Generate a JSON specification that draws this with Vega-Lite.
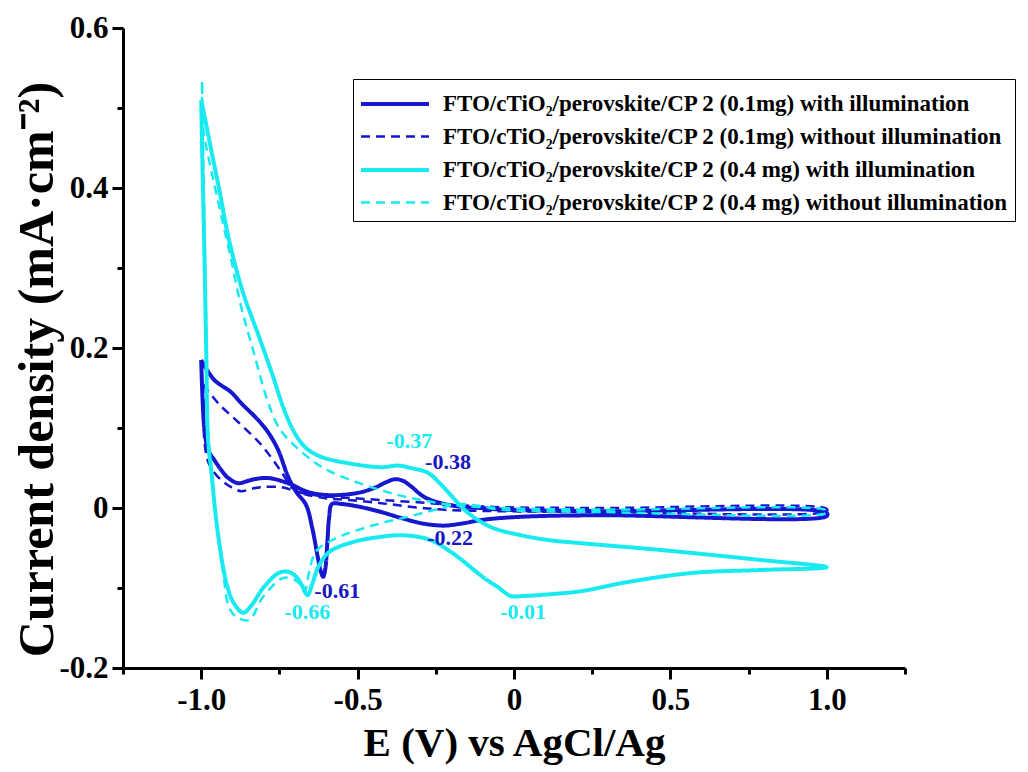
{
  "$schema": "https://vega.github.io/schema/vega-lite/v6.json",
  "width": 782,
  "height": 640,
  "autosize": {"type": "none"},
  "padding": {"left": 123, "top": 28, "right": 123, "bottom": 104},
  "background": "white",
  "config": {
    "view": {"stroke": null},
    "font": "Liberation Serif",
    "legend": {
      "orient": "none",
      "legendX": 230,
      "legendY": 51,
      "symbolType": "M-2,0H2",
      "symbolSize": 1156,
      "symbolOffset": 17,
      "labelFont": "Liberation Serif",
      "labelFontWeight": "bold",
      "labelFontSize": 23,
      "labelColor": "black",
      "labelLimit": 0,
      "labelOffset": 29,
      "strokeColor": "black",
      "padding": 6,
      "rowPadding": 2
    }
  },
  "datasets": {
    "curves": [
      {"sample": "FTO/cTiO₂/perovskite/CP 2 (0.1mg) with illumination", "E": -1.0, "J": 0.185},
      {"sample": "FTO/cTiO₂/perovskite/CP 2 (0.1mg) with illumination", "E": -0.958, "J": 0.16},
      {"sample": "FTO/cTiO₂/perovskite/CP 2 (0.1mg) with illumination", "E": -0.905, "J": 0.145},
      {"sample": "FTO/cTiO₂/perovskite/CP 2 (0.1mg) with illumination", "E": -0.872, "J": 0.131},
      {"sample": "FTO/cTiO₂/perovskite/CP 2 (0.1mg) with illumination", "E": -0.818, "J": 0.11},
      {"sample": "FTO/cTiO₂/perovskite/CP 2 (0.1mg) with illumination", "E": -0.785, "J": 0.094},
      {"sample": "FTO/cTiO₂/perovskite/CP 2 (0.1mg) with illumination", "E": -0.754, "J": 0.0725},
      {"sample": "FTO/cTiO₂/perovskite/CP 2 (0.1mg) with illumination", "E": -0.722, "J": 0.039},
      {"sample": "FTO/cTiO₂/perovskite/CP 2 (0.1mg) with illumination", "E": -0.696, "J": 0.02},
      {"sample": "FTO/cTiO₂/perovskite/CP 2 (0.1mg) with illumination", "E": -0.665, "J": 0.004},
      {"sample": "FTO/cTiO₂/perovskite/CP 2 (0.1mg) with illumination", "E": -0.645, "J": -0.025},
      {"sample": "FTO/cTiO₂/perovskite/CP 2 (0.1mg) with illumination", "E": -0.628, "J": -0.06},
      {"sample": "FTO/cTiO₂/perovskite/CP 2 (0.1mg) with illumination", "E": -0.617, "J": -0.08},
      {"sample": "FTO/cTiO₂/perovskite/CP 2 (0.1mg) with illumination", "E": -0.61, "J": -0.086},
      {"sample": "FTO/cTiO₂/perovskite/CP 2 (0.1mg) with illumination", "E": -0.603, "J": -0.075},
      {"sample": "FTO/cTiO₂/perovskite/CP 2 (0.1mg) with illumination", "E": -0.597, "J": -0.045},
      {"sample": "FTO/cTiO₂/perovskite/CP 2 (0.1mg) with illumination", "E": -0.591, "J": -0.012},
      {"sample": "FTO/cTiO₂/perovskite/CP 2 (0.1mg) with illumination", "E": -0.582, "J": 0.005},
      {"sample": "FTO/cTiO₂/perovskite/CP 2 (0.1mg) with illumination", "E": -0.55, "J": 0.005},
      {"sample": "FTO/cTiO₂/perovskite/CP 2 (0.1mg) with illumination", "E": -0.5, "J": 0.002},
      {"sample": "FTO/cTiO₂/perovskite/CP 2 (0.1mg) with illumination", "E": -0.425, "J": -0.005},
      {"sample": "FTO/cTiO₂/perovskite/CP 2 (0.1mg) with illumination", "E": -0.361, "J": -0.0125},
      {"sample": "FTO/cTiO₂/perovskite/CP 2 (0.1mg) with illumination", "E": -0.297, "J": -0.019},
      {"sample": "FTO/cTiO₂/perovskite/CP 2 (0.1mg) with illumination", "E": -0.25, "J": -0.0215},
      {"sample": "FTO/cTiO₂/perovskite/CP 2 (0.1mg) with illumination", "E": -0.22, "J": -0.022},
      {"sample": "FTO/cTiO₂/perovskite/CP 2 (0.1mg) with illumination", "E": -0.16, "J": -0.019},
      {"sample": "FTO/cTiO₂/perovskite/CP 2 (0.1mg) with illumination", "E": -0.105, "J": -0.015},
      {"sample": "FTO/cTiO₂/perovskite/CP 2 (0.1mg) with illumination", "E": 0.022, "J": -0.011},
      {"sample": "FTO/cTiO₂/perovskite/CP 2 (0.1mg) with illumination", "E": 0.278, "J": -0.009},
      {"sample": "FTO/cTiO₂/perovskite/CP 2 (0.1mg) with illumination", "E": 1.0, "J": -0.01},
      {"sample": "FTO/cTiO₂/perovskite/CP 2 (0.1mg) with illumination", "E": 1.0, "J": -0.006},
      {"sample": "FTO/cTiO₂/perovskite/CP 2 (0.1mg) with illumination", "E": 0.278, "J": -0.004},
      {"sample": "FTO/cTiO₂/perovskite/CP 2 (0.1mg) with illumination", "E": -0.042, "J": -0.002},
      {"sample": "FTO/cTiO₂/perovskite/CP 2 (0.1mg) with illumination", "E": -0.105, "J": 0.0},
      {"sample": "FTO/cTiO₂/perovskite/CP 2 (0.1mg) with illumination", "E": -0.16, "J": 0.001},
      {"sample": "FTO/cTiO₂/perovskite/CP 2 (0.1mg) with illumination", "E": -0.233, "J": 0.006},
      {"sample": "FTO/cTiO₂/perovskite/CP 2 (0.1mg) with illumination", "E": -0.288, "J": 0.014},
      {"sample": "FTO/cTiO₂/perovskite/CP 2 (0.1mg) with illumination", "E": -0.329, "J": 0.027},
      {"sample": "FTO/cTiO₂/perovskite/CP 2 (0.1mg) with illumination", "E": -0.355, "J": 0.034},
      {"sample": "FTO/cTiO₂/perovskite/CP 2 (0.1mg) with illumination", "E": -0.38, "J": 0.036},
      {"sample": "FTO/cTiO₂/perovskite/CP 2 (0.1mg) with illumination", "E": -0.41, "J": 0.032},
      {"sample": "FTO/cTiO₂/perovskite/CP 2 (0.1mg) with illumination", "E": -0.447, "J": 0.025},
      {"sample": "FTO/cTiO₂/perovskite/CP 2 (0.1mg) with illumination", "E": -0.498, "J": 0.019},
      {"sample": "FTO/cTiO₂/perovskite/CP 2 (0.1mg) with illumination", "E": -0.585, "J": 0.016},
      {"sample": "FTO/cTiO₂/perovskite/CP 2 (0.1mg) with illumination", "E": -0.658, "J": 0.02},
      {"sample": "FTO/cTiO₂/perovskite/CP 2 (0.1mg) with illumination", "E": -0.722, "J": 0.031},
      {"sample": "FTO/cTiO₂/perovskite/CP 2 (0.1mg) with illumination", "E": -0.786, "J": 0.0375},
      {"sample": "FTO/cTiO₂/perovskite/CP 2 (0.1mg) with illumination", "E": -0.83, "J": 0.036},
      {"sample": "FTO/cTiO₂/perovskite/CP 2 (0.1mg) with illumination", "E": -0.85, "J": 0.034},
      {"sample": "FTO/cTiO₂/perovskite/CP 2 (0.1mg) with illumination", "E": -0.882, "J": 0.031},
      {"sample": "FTO/cTiO₂/perovskite/CP 2 (0.1mg) with illumination", "E": -0.915, "J": 0.038},
      {"sample": "FTO/cTiO₂/perovskite/CP 2 (0.1mg) with illumination", "E": -0.936, "J": 0.0475},
      {"sample": "FTO/cTiO₂/perovskite/CP 2 (0.1mg) with illumination", "E": -0.958, "J": 0.06},
      {"sample": "FTO/cTiO₂/perovskite/CP 2 (0.1mg) with illumination", "E": -0.978, "J": 0.0725},
      {"sample": "FTO/cTiO₂/perovskite/CP 2 (0.1mg) with illumination", "E": -0.99, "J": 0.1},
      {"sample": "FTO/cTiO₂/perovskite/CP 2 (0.1mg) with illumination", "E": -0.994, "J": 0.1225},
      {"sample": "FTO/cTiO₂/perovskite/CP 2 (0.1mg) with illumination", "E": -0.998, "J": 0.16},
      {"sample": "FTO/cTiO₂/perovskite/CP 2 (0.1mg) with illumination", "E": -1.0, "J": 0.185},

      {"sample": "FTO/cTiO₂/perovskite/CP 2 (0.1mg) without illumination", "E": -0.994, "J": 0.155},
      {"sample": "FTO/cTiO₂/perovskite/CP 2 (0.1mg) without illumination", "E": -0.992, "J": 0.12},
      {"sample": "FTO/cTiO₂/perovskite/CP 2 (0.1mg) without illumination", "E": -0.99, "J": 0.085},
      {"sample": "FTO/cTiO₂/perovskite/CP 2 (0.1mg) without illumination", "E": -0.978, "J": 0.058},
      {"sample": "FTO/cTiO₂/perovskite/CP 2 (0.1mg) without illumination", "E": -0.958, "J": 0.044},
      {"sample": "FTO/cTiO₂/perovskite/CP 2 (0.1mg) without illumination", "E": -0.93, "J": 0.033},
      {"sample": "FTO/cTiO₂/perovskite/CP 2 (0.1mg) without illumination", "E": -0.904, "J": 0.026},
      {"sample": "FTO/cTiO₂/perovskite/CP 2 (0.1mg) without illumination", "E": -0.872, "J": 0.021},
      {"sample": "FTO/cTiO₂/perovskite/CP 2 (0.1mg) without illumination", "E": -0.84, "J": 0.024},
      {"sample": "FTO/cTiO₂/perovskite/CP 2 (0.1mg) without illumination", "E": -0.808, "J": 0.026},
      {"sample": "FTO/cTiO₂/perovskite/CP 2 (0.1mg) without illumination", "E": -0.744, "J": 0.026},
      {"sample": "FTO/cTiO₂/perovskite/CP 2 (0.1mg) without illumination", "E": -0.69, "J": 0.02},
      {"sample": "FTO/cTiO₂/perovskite/CP 2 (0.1mg) without illumination", "E": -0.62, "J": 0.015},
      {"sample": "FTO/cTiO₂/perovskite/CP 2 (0.1mg) without illumination", "E": -0.52, "J": 0.0125},
      {"sample": "FTO/cTiO₂/perovskite/CP 2 (0.1mg) without illumination", "E": -0.425, "J": 0.01},
      {"sample": "FTO/cTiO₂/perovskite/CP 2 (0.1mg) without illumination", "E": -0.319, "J": 0.0075},
      {"sample": "FTO/cTiO₂/perovskite/CP 2 (0.1mg) without illumination", "E": -0.2, "J": 0.004},
      {"sample": "FTO/cTiO₂/perovskite/CP 2 (0.1mg) without illumination", "E": -0.042, "J": 0.001},
      {"sample": "FTO/cTiO₂/perovskite/CP 2 (0.1mg) without illumination", "E": 0.278, "J": 0.0},
      {"sample": "FTO/cTiO₂/perovskite/CP 2 (0.1mg) without illumination", "E": 1.0, "J": -0.001},
      {"sample": "FTO/cTiO₂/perovskite/CP 2 (0.1mg) without illumination", "E": 1.0, "J": -0.004},
      {"sample": "FTO/cTiO₂/perovskite/CP 2 (0.1mg) without illumination", "E": 0.278, "J": -0.005},
      {"sample": "FTO/cTiO₂/perovskite/CP 2 (0.1mg) without illumination", "E": -0.042, "J": -0.004},
      {"sample": "FTO/cTiO₂/perovskite/CP 2 (0.1mg) without illumination", "E": -0.211, "J": -0.0025},
      {"sample": "FTO/cTiO₂/perovskite/CP 2 (0.1mg) without illumination", "E": -0.319, "J": 0.001},
      {"sample": "FTO/cTiO₂/perovskite/CP 2 (0.1mg) without illumination", "E": -0.425, "J": 0.006},
      {"sample": "FTO/cTiO₂/perovskite/CP 2 (0.1mg) without illumination", "E": -0.53, "J": 0.01},
      {"sample": "FTO/cTiO₂/perovskite/CP 2 (0.1mg) without illumination", "E": -0.607, "J": 0.0125},
      {"sample": "FTO/cTiO₂/perovskite/CP 2 (0.1mg) without illumination", "E": -0.681, "J": 0.019},
      {"sample": "FTO/cTiO₂/perovskite/CP 2 (0.1mg) without illumination", "E": -0.712, "J": 0.026},
      {"sample": "FTO/cTiO₂/perovskite/CP 2 (0.1mg) without illumination", "E": -0.735, "J": 0.04},
      {"sample": "FTO/cTiO₂/perovskite/CP 2 (0.1mg) without illumination", "E": -0.754, "J": 0.051},
      {"sample": "FTO/cTiO₂/perovskite/CP 2 (0.1mg) without illumination", "E": -0.808, "J": 0.079},
      {"sample": "FTO/cTiO₂/perovskite/CP 2 (0.1mg) without illumination", "E": -0.882, "J": 0.1075},
      {"sample": "FTO/cTiO₂/perovskite/CP 2 (0.1mg) without illumination", "E": -0.946, "J": 0.131},
      {"sample": "FTO/cTiO₂/perovskite/CP 2 (0.1mg) without illumination", "E": -0.994, "J": 0.155},

      {"sample": "FTO/cTiO₂/perovskite/CP 2 (0.4 mg) with illumination", "E": -1.0, "J": 0.51},
      {"sample": "FTO/cTiO₂/perovskite/CP 2 (0.4 mg) with illumination", "E": -0.99, "J": 0.491},
      {"sample": "FTO/cTiO₂/perovskite/CP 2 (0.4 mg) with illumination", "E": -0.968, "J": 0.4475},
      {"sample": "FTO/cTiO₂/perovskite/CP 2 (0.4 mg) with illumination", "E": -0.942, "J": 0.3975},
      {"sample": "FTO/cTiO₂/perovskite/CP 2 (0.4 mg) with illumination", "E": -0.911, "J": 0.335},
      {"sample": "FTO/cTiO₂/perovskite/CP 2 (0.4 mg) with illumination", "E": -0.866, "J": 0.269},
      {"sample": "FTO/cTiO₂/perovskite/CP 2 (0.4 mg) with illumination", "E": -0.815, "J": 0.214},
      {"sample": "FTO/cTiO₂/perovskite/CP 2 (0.4 mg) with illumination", "E": -0.77, "J": 0.164},
      {"sample": "FTO/cTiO₂/perovskite/CP 2 (0.4 mg) with illumination", "E": -0.738, "J": 0.126},
      {"sample": "FTO/cTiO₂/perovskite/CP 2 (0.4 mg) with illumination", "E": -0.703, "J": 0.095},
      {"sample": "FTO/cTiO₂/perovskite/CP 2 (0.4 mg) with illumination", "E": -0.665, "J": 0.075},
      {"sample": "FTO/cTiO₂/perovskite/CP 2 (0.4 mg) with illumination", "E": -0.617, "J": 0.064},
      {"sample": "FTO/cTiO₂/perovskite/CP 2 (0.4 mg) with illumination", "E": -0.53, "J": 0.056},
      {"sample": "FTO/cTiO₂/perovskite/CP 2 (0.4 mg) with illumination", "E": -0.425, "J": 0.051},
      {"sample": "FTO/cTiO₂/perovskite/CP 2 (0.4 mg) with illumination", "E": -0.37, "J": 0.053},
      {"sample": "FTO/cTiO₂/perovskite/CP 2 (0.4 mg) with illumination", "E": -0.33, "J": 0.05},
      {"sample": "FTO/cTiO₂/perovskite/CP 2 (0.4 mg) with illumination", "E": -0.275, "J": 0.044},
      {"sample": "FTO/cTiO₂/perovskite/CP 2 (0.4 mg) with illumination", "E": -0.24, "J": 0.032},
      {"sample": "FTO/cTiO₂/perovskite/CP 2 (0.4 mg) with illumination", "E": -0.211, "J": 0.02},
      {"sample": "FTO/cTiO₂/perovskite/CP 2 (0.4 mg) with illumination", "E": -0.147, "J": -0.006},
      {"sample": "FTO/cTiO₂/perovskite/CP 2 (0.4 mg) with illumination", "E": -0.073, "J": -0.024},
      {"sample": "FTO/cTiO₂/perovskite/CP 2 (0.4 mg) with illumination", "E": 0.022, "J": -0.034},
      {"sample": "FTO/cTiO₂/perovskite/CP 2 (0.4 mg) with illumination", "E": 0.109, "J": -0.04},
      {"sample": "FTO/cTiO₂/perovskite/CP 2 (0.4 mg) with illumination", "E": 0.214, "J": -0.044},
      {"sample": "FTO/cTiO₂/perovskite/CP 2 (0.4 mg) with illumination", "E": 0.47, "J": -0.0525},
      {"sample": "FTO/cTiO₂/perovskite/CP 2 (0.4 mg) with illumination", "E": 0.789, "J": -0.065},
      {"sample": "FTO/cTiO₂/perovskite/CP 2 (0.4 mg) with illumination", "E": 1.0, "J": -0.074},
      {"sample": "FTO/cTiO₂/perovskite/CP 2 (0.4 mg) with illumination", "E": 0.789, "J": -0.0775},
      {"sample": "FTO/cTiO₂/perovskite/CP 2 (0.4 mg) with illumination", "E": 0.575, "J": -0.081},
      {"sample": "FTO/cTiO₂/perovskite/CP 2 (0.4 mg) with illumination", "E": 0.364, "J": -0.0925},
      {"sample": "FTO/cTiO₂/perovskite/CP 2 (0.4 mg) with illumination", "E": 0.214, "J": -0.104},
      {"sample": "FTO/cTiO₂/perovskite/CP 2 (0.4 mg) with illumination", "E": 0.109, "J": -0.108},
      {"sample": "FTO/cTiO₂/perovskite/CP 2 (0.4 mg) with illumination", "E": 0.03, "J": -0.11},
      {"sample": "FTO/cTiO₂/perovskite/CP 2 (0.4 mg) with illumination", "E": -0.01, "J": -0.11},
      {"sample": "FTO/cTiO₂/perovskite/CP 2 (0.4 mg) with illumination", "E": -0.051, "J": -0.099},
      {"sample": "FTO/cTiO₂/perovskite/CP 2 (0.4 mg) with illumination", "E": -0.09, "J": -0.089},
      {"sample": "FTO/cTiO₂/perovskite/CP 2 (0.4 mg) with illumination", "E": -0.128, "J": -0.0775},
      {"sample": "FTO/cTiO₂/perovskite/CP 2 (0.4 mg) with illumination", "E": -0.17, "J": -0.064},
      {"sample": "FTO/cTiO₂/perovskite/CP 2 (0.4 mg) with illumination", "E": -0.211, "J": -0.0525},
      {"sample": "FTO/cTiO₂/perovskite/CP 2 (0.4 mg) with illumination", "E": -0.25, "J": -0.043},
      {"sample": "FTO/cTiO₂/perovskite/CP 2 (0.4 mg) with illumination", "E": -0.288, "J": -0.0375},
      {"sample": "FTO/cTiO₂/perovskite/CP 2 (0.4 mg) with illumination", "E": -0.361, "J": -0.034},
      {"sample": "FTO/cTiO₂/perovskite/CP 2 (0.4 mg) with illumination", "E": -0.425, "J": -0.036},
      {"sample": "FTO/cTiO₂/perovskite/CP 2 (0.4 mg) with illumination", "E": -0.514, "J": -0.0425},
      {"sample": "FTO/cTiO₂/perovskite/CP 2 (0.4 mg) with illumination", "E": -0.591, "J": -0.055},
      {"sample": "FTO/cTiO₂/perovskite/CP 2 (0.4 mg) with illumination", "E": -0.626, "J": -0.074},
      {"sample": "FTO/cTiO₂/perovskite/CP 2 (0.4 mg) with illumination", "E": -0.645, "J": -0.095},
      {"sample": "FTO/cTiO₂/perovskite/CP 2 (0.4 mg) with illumination", "E": -0.66, "J": -0.109},
      {"sample": "FTO/cTiO₂/perovskite/CP 2 (0.4 mg) with illumination", "E": -0.68, "J": -0.095},
      {"sample": "FTO/cTiO₂/perovskite/CP 2 (0.4 mg) with illumination", "E": -0.696, "J": -0.086},
      {"sample": "FTO/cTiO₂/perovskite/CP 2 (0.4 mg) with illumination", "E": -0.719, "J": -0.08},
      {"sample": "FTO/cTiO₂/perovskite/CP 2 (0.4 mg) with illumination", "E": -0.751, "J": -0.081},
      {"sample": "FTO/cTiO₂/perovskite/CP 2 (0.4 mg) with illumination", "E": -0.802, "J": -0.1},
      {"sample": "FTO/cTiO₂/perovskite/CP 2 (0.4 mg) with illumination", "E": -0.84, "J": -0.122},
      {"sample": "FTO/cTiO₂/perovskite/CP 2 (0.4 mg) with illumination", "E": -0.866, "J": -0.131},
      {"sample": "FTO/cTiO₂/perovskite/CP 2 (0.4 mg) with illumination", "E": -0.898, "J": -0.1175},
      {"sample": "FTO/cTiO₂/perovskite/CP 2 (0.4 mg) with illumination", "E": -0.915, "J": -0.1},
      {"sample": "FTO/cTiO₂/perovskite/CP 2 (0.4 mg) with illumination", "E": -0.93, "J": -0.074},
      {"sample": "FTO/cTiO₂/perovskite/CP 2 (0.4 mg) with illumination", "E": -0.952, "J": -0.015},
      {"sample": "FTO/cTiO₂/perovskite/CP 2 (0.4 mg) with illumination", "E": -0.968, "J": 0.0475},
      {"sample": "FTO/cTiO₂/perovskite/CP 2 (0.4 mg) with illumination", "E": -0.978, "J": 0.085},
      {"sample": "FTO/cTiO₂/perovskite/CP 2 (0.4 mg) with illumination", "E": -0.984, "J": 0.1975},
      {"sample": "FTO/cTiO₂/perovskite/CP 2 (0.4 mg) with illumination", "E": -0.99, "J": 0.3225},
      {"sample": "FTO/cTiO₂/perovskite/CP 2 (0.4 mg) with illumination", "E": -0.997, "J": 0.4475},
      {"sample": "FTO/cTiO₂/perovskite/CP 2 (0.4 mg) with illumination", "E": -1.0, "J": 0.51},

      {"sample": "FTO/cTiO₂/perovskite/CP 2 (0.4 mg) without illumination", "E": -0.997, "J": 0.5325},
      {"sample": "FTO/cTiO₂/perovskite/CP 2 (0.4 mg) without illumination", "E": -0.994, "J": 0.476},
      {"sample": "FTO/cTiO₂/perovskite/CP 2 (0.4 mg) without illumination", "E": -0.968, "J": 0.4225},
      {"sample": "FTO/cTiO₂/perovskite/CP 2 (0.4 mg) without illumination", "E": -0.936, "J": 0.366},
      {"sample": "FTO/cTiO₂/perovskite/CP 2 (0.4 mg) without illumination", "E": -0.904, "J": 0.31},
      {"sample": "FTO/cTiO₂/perovskite/CP 2 (0.4 mg) without illumination", "E": -0.872, "J": 0.251},
      {"sample": "FTO/cTiO₂/perovskite/CP 2 (0.4 mg) without illumination", "E": -0.834, "J": 0.1975},
      {"sample": "FTO/cTiO₂/perovskite/CP 2 (0.4 mg) without illumination", "E": -0.792, "J": 0.139},
      {"sample": "FTO/cTiO₂/perovskite/CP 2 (0.4 mg) without illumination", "E": -0.751, "J": 0.1},
      {"sample": "FTO/cTiO₂/perovskite/CP 2 (0.4 mg) without illumination", "E": -0.696, "J": 0.076},
      {"sample": "FTO/cTiO₂/perovskite/CP 2 (0.4 mg) without illumination", "E": -0.633, "J": 0.056},
      {"sample": "FTO/cTiO₂/perovskite/CP 2 (0.4 mg) without illumination", "E": -0.585, "J": 0.045},
      {"sample": "FTO/cTiO₂/perovskite/CP 2 (0.4 mg) without illumination", "E": -0.479, "J": 0.029},
      {"sample": "FTO/cTiO₂/perovskite/CP 2 (0.4 mg) without illumination", "E": -0.383, "J": 0.0175},
      {"sample": "FTO/cTiO₂/perovskite/CP 2 (0.4 mg) without illumination", "E": -0.297, "J": 0.01},
      {"sample": "FTO/cTiO₂/perovskite/CP 2 (0.4 mg) without illumination", "E": -0.201, "J": 0.004},
      {"sample": "FTO/cTiO₂/perovskite/CP 2 (0.4 mg) without illumination", "E": -0.042, "J": 0.0},
      {"sample": "FTO/cTiO₂/perovskite/CP 2 (0.4 mg) without illumination", "E": 0.278, "J": -0.002},
      {"sample": "FTO/cTiO₂/perovskite/CP 2 (0.4 mg) without illumination", "E": 1.0, "J": -0.003},
      {"sample": "FTO/cTiO₂/perovskite/CP 2 (0.4 mg) without illumination", "E": 1.0, "J": -0.006},
      {"sample": "FTO/cTiO₂/perovskite/CP 2 (0.4 mg) without illumination", "E": 0.278, "J": -0.005},
      {"sample": "FTO/cTiO₂/perovskite/CP 2 (0.4 mg) without illumination", "E": -0.042, "J": -0.002},
      {"sample": "FTO/cTiO₂/perovskite/CP 2 (0.4 mg) without illumination", "E": -0.12, "J": 0.003},
      {"sample": "FTO/cTiO₂/perovskite/CP 2 (0.4 mg) without illumination", "E": -0.179, "J": 0.005},
      {"sample": "FTO/cTiO₂/perovskite/CP 2 (0.4 mg) without illumination", "E": -0.256, "J": -0.0025},
      {"sample": "FTO/cTiO₂/perovskite/CP 2 (0.4 mg) without illumination", "E": -0.339, "J": -0.011},
      {"sample": "FTO/cTiO₂/perovskite/CP 2 (0.4 mg) without illumination", "E": -0.425, "J": -0.019},
      {"sample": "FTO/cTiO₂/perovskite/CP 2 (0.4 mg) without illumination", "E": -0.546, "J": -0.034},
      {"sample": "FTO/cTiO₂/perovskite/CP 2 (0.4 mg) without illumination", "E": -0.623, "J": -0.05},
      {"sample": "FTO/cTiO₂/perovskite/CP 2 (0.4 mg) without illumination", "E": -0.642, "J": -0.061},
      {"sample": "FTO/cTiO₂/perovskite/CP 2 (0.4 mg) without illumination", "E": -0.655, "J": -0.08},
      {"sample": "FTO/cTiO₂/perovskite/CP 2 (0.4 mg) without illumination", "E": -0.67, "J": -0.105},
      {"sample": "FTO/cTiO₂/perovskite/CP 2 (0.4 mg) without illumination", "E": -0.685, "J": -0.095},
      {"sample": "FTO/cTiO₂/perovskite/CP 2 (0.4 mg) without illumination", "E": -0.7, "J": -0.09},
      {"sample": "FTO/cTiO₂/perovskite/CP 2 (0.4 mg) without illumination", "E": -0.738, "J": -0.0875},
      {"sample": "FTO/cTiO₂/perovskite/CP 2 (0.4 mg) without illumination", "E": -0.802, "J": -0.111},
      {"sample": "FTO/cTiO₂/perovskite/CP 2 (0.4 mg) without illumination", "E": -0.847, "J": -0.14},
      {"sample": "FTO/cTiO₂/perovskite/CP 2 (0.4 mg) without illumination", "E": -0.888, "J": -0.136},
      {"sample": "FTO/cTiO₂/perovskite/CP 2 (0.4 mg) without illumination", "E": -0.911, "J": -0.124},
      {"sample": "FTO/cTiO₂/perovskite/CP 2 (0.4 mg) without illumination", "E": -0.93, "J": -0.08},
      {"sample": "FTO/cTiO₂/perovskite/CP 2 (0.4 mg) without illumination", "E": -0.952, "J": -0.015},
      {"sample": "FTO/cTiO₂/perovskite/CP 2 (0.4 mg) without illumination", "E": -0.968, "J": 0.05},
      {"sample": "FTO/cTiO₂/perovskite/CP 2 (0.4 mg) without illumination", "E": -0.978, "J": 0.1},
      {"sample": "FTO/cTiO₂/perovskite/CP 2 (0.4 mg) without illumination", "E": -0.985, "J": 0.25},
      {"sample": "FTO/cTiO₂/perovskite/CP 2 (0.4 mg) without illumination", "E": -0.992, "J": 0.4},
      {"sample": "FTO/cTiO₂/perovskite/CP 2 (0.4 mg) without illumination", "E": -0.997, "J": 0.5325}
    ],
    "peaks": [
      {"mass": "0.4 mg", "label": "-0.37", "E": -0.335, "J": 0.084},
      {"mass": "0.1mg", "label": "-0.38", "E": -0.211, "J": 0.0575},
      {"mass": "0.1mg", "label": "-0.22", "E": -0.204, "J": -0.0375},
      {"mass": "0.1mg", "label": "-0.61", "E": -0.565, "J": -0.104},
      {"mass": "0.4 mg", "label": "-0.66", "E": -0.661, "J": -0.13},
      {"mass": "0.4 mg", "label": "-0.01", "E": 0.029, "J": -0.13}
    ]
  },
  "layer": [
    {
      "data": {"name": "curves"},
      "mark": {"type": "line", "interpolate": "catmull-rom", "strokeJoin": "round", "strokeCap": "butt"},
      "encoding": {
        "x": {
          "field": "E", "type": "quantitative",
          "scale": {"domain": [-1.25, 1.25], "nice": false, "zero": false},
          "axis": {
            "title": "E (V) vs AgCl/Ag",
            "values": [-1.25, -1, -0.75, -0.5, -0.25, 0, 0.25, 0.5, 0.75, 1, 1.25],
            "labelExpr": "abs(datum.value) > 1.1 || abs(datum.value * 2 - round(datum.value * 2)) > 0.01 ? '' : (datum.value == 0 ? '0' : replace(format(datum.value, '.1f'), '\u2212', '-'))",
            "grid": false,
            "domainColor": "black", "domainWidth": 3,
            "tickColor": "black", "tickWidth": 3,
            "tickSize": {"condition": {"test": "abs(datum.value) < 1.1 && abs(datum.value * 2 - round(datum.value * 2)) < 0.01", "value": 11}, "value": 6},
            "labelFont": "Liberation Serif", "labelFontWeight": "bold", "labelFontSize": 31, "labelColor": "black",
            "labelPadding": 6, "labelFlush": false,
            "titleFont": "Liberation Serif", "titleFontWeight": "bold", "titleFontSize": 41, "titleColor": "black",
            "titlePadding": 8
          }
        },
        "y": {
          "field": "J", "type": "quantitative",
          "scale": {"domain": [-0.2, 0.6], "nice": false, "zero": false},
          "axis": {
            "title": "Current density (mA·cm⁻²)",
            "values": [-0.2, -0.1, 0, 0.1, 0.2, 0.3, 0.4, 0.5, 0.6],
            "labelExpr": "abs(datum.value * 5 - round(datum.value * 5)) > 0.01 ? '' : (datum.value == 0 ? '0' : replace(format(datum.value, '.1f'), '\u2212', '-'))",
            "grid": false,
            "domainColor": "black", "domainWidth": 3,
            "tickColor": "black", "tickWidth": 3,
            "tickSize": {"condition": {"test": "abs(datum.value * 5 - round(datum.value * 5)) < 0.01", "value": 11}, "value": 6},
            "labelFont": "Liberation Serif", "labelFontWeight": "bold", "labelFontSize": 31, "labelColor": "black",
            "labelPadding": 4, "labelFlush": false,
            "titleFont": "Liberation Serif", "titleFontWeight": "bold", "titleFontSize": 50, "titleColor": "black",
            "titleX": -61,
            "titleY": 341,
            "titleBaseline": "bottom"
          }
        },
        "order": {"value": null},
        "color": {
          "field": "sample", "type": "nominal", "title": null,
          "scale": {
            "domain": [
              "FTO/cTiO₂/perovskite/CP 2 (0.1mg) with illumination",
              "FTO/cTiO₂/perovskite/CP 2 (0.1mg) without illumination",
              "FTO/cTiO₂/perovskite/CP 2 (0.4 mg) with illumination",
              "FTO/cTiO₂/perovskite/CP 2 (0.4 mg) without illumination"
            ],
            "range": ["#1717d0", "#1717d0", "#18eaf0", "#18eaf0"]
          }
        },
        "strokeDash": {
          "field": "sample", "type": "nominal", "title": null,
          "scale": {
            "domain": [
              "FTO/cTiO₂/perovskite/CP 2 (0.1mg) with illumination",
              "FTO/cTiO₂/perovskite/CP 2 (0.1mg) without illumination",
              "FTO/cTiO₂/perovskite/CP 2 (0.4 mg) with illumination",
              "FTO/cTiO₂/perovskite/CP 2 (0.4 mg) without illumination"
            ],
            "range": [[1, 0], [9, 6], [1, 0], [9, 6]]
          }
        },
        "strokeWidth": {
          "field": "sample", "type": "nominal", "title": null,
          "scale": {
            "type": "ordinal",
            "domain": [
              "FTO/cTiO₂/perovskite/CP 2 (0.1mg) with illumination",
              "FTO/cTiO₂/perovskite/CP 2 (0.1mg) without illumination",
              "FTO/cTiO₂/perovskite/CP 2 (0.4 mg) with illumination",
              "FTO/cTiO₂/perovskite/CP 2 (0.4 mg) without illumination"
            ],
            "range": [4, 2.5, 4, 2.5]
          }
        }
      }
    },
    {
      "data": {"name": "peaks"},
      "transform": [{"filter": "datum.mass == '0.1mg'"}],
      "mark": {"type": "text", "font": "Liberation Serif", "fontWeight": "bold", "fontSize": 22, "align": "center", "baseline": "middle", "color": "#1717c0"},
      "encoding": {
        "x": {"field": "E", "type": "quantitative"},
        "y": {"field": "J", "type": "quantitative"},
        "text": {"field": "label"}
      }
    },
    {
      "data": {"name": "peaks"},
      "transform": [{"filter": "datum.mass == '0.4 mg'"}],
      "mark": {"type": "text", "font": "Liberation Serif", "fontWeight": "bold", "fontSize": 22, "align": "center", "baseline": "middle", "color": "#18eaf0"},
      "encoding": {
        "x": {"field": "E", "type": "quantitative"},
        "y": {"field": "J", "type": "quantitative"},
        "text": {"field": "label"}
      }
    }
  ]
}
